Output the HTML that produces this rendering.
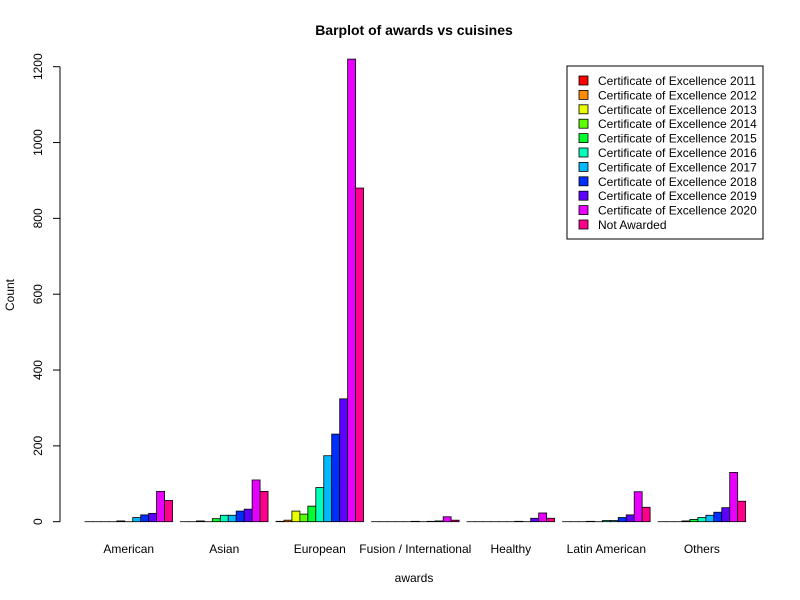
<!DOCTYPE html>
<html><head><meta charset="utf-8"><style>
body{margin:0;background:#fff}
svg{display:block;font-family:"Liberation Sans",Arial,sans-serif}
</style></head><body>
<svg id="chart" width="800" height="600" xmlns="http://www.w3.org/2000/svg">
<text x="414" y="35" text-anchor="middle" font-size="14" font-weight="bold">Barplot of awards vs cuisines</text>
<text x="414" y="582" text-anchor="middle" font-size="12">awards</text>
<text transform="translate(14,295) rotate(-90)" text-anchor="middle" font-size="12">Count</text>
<g id="bars"></g><g id="yaxis"></g><g id="xlabels"></g><g id="legend"></g>
</svg>
<script>
const categories=["American","Asian","European","Fusion / International","Healthy","Latin American","Others"];
const seriesNames=["Certificate of Excellence 2011","Certificate of Excellence 2012","Certificate of Excellence 2013","Certificate of Excellence 2014","Certificate of Excellence 2015","Certificate of Excellence 2016","Certificate of Excellence 2017","Certificate of Excellence 2018","Certificate of Excellence 2019","Certificate of Excellence 2020","Not Awarded"];
const colors=["#FF0000","#FF8B00","#E8FF00","#5DFF00","#00FF2E","#00FFB9","#00B9FF","#002EFF","#5D00FF","#E800FF","#FF008B"];
const american=[0,0,0,0,2,0,11,18,22,80,56];
const asian=[0,0,2,0,8,17,17,28,33,110,80];
const european=[1,4,28,20,41,90,174,231,324,1220,880];
const fusion=[0,0,0,0,0,1,0,1,2,13,4];
const healthy=[0,0,0,0,0,0,1,0,9,23,9];
const latin=[0,0,0,1,0,3,3,11,18,79,38];
const others=[0,0,0,2,6,11,17,25,37,130,54];
const values=[american,asian,european,fusion,healthy,latin,others];
const yTicks=[0,200,400,600,800,1000,1200];
const NS="http://www.w3.org/2000/svg";
const bw=7.96,x0=77,y0=521.7,yScale=455/1200;
const y=v=>y0-v*yScale;
const xb=(g,s)=>x0+(g*12+1+s)*bw;
function mk(t,a,p){const e=document.createElementNS(NS,t);for(const k in a)e.setAttribute(k,a[k]);document.getElementById(p).appendChild(e);return e;}
values.forEach((arr,g)=>{arr.forEach((v,s)=>{
 const r=mk('rect',{x:xb(g,s),y:y(v),width:bw,height:Math.max(v*yScale,0.01),fill:colors[s],stroke:'#000','stroke-width':0.8},'bars');
 
 
});
 const t=mk('text',{x:xb(g,5.5),y:553,'text-anchor':'middle','font-size':12},'xlabels');
 t.textContent=categories[g];
 
 
});
const ax=mk('line',{x1:60,x2:60,y1:y(0),y2:y(1200),stroke:'#000'},'yaxis');


yTicks.forEach(v=>{
 mk('line',{x1:53,x2:60,y1:y(v),y2:y(v),stroke:'#000'},'yaxis');
 const t=mk('text',{transform:`translate(42,${y(v)}) rotate(-90)`,'text-anchor':'middle','font-size':12},'yaxis');
 t.textContent=v;
 
 
});
const lb=mk('rect',{x:567,y:66,width:196,height:173,fill:'#fff',stroke:'#000'},'legend');


seriesNames.forEach((n,i)=>{
 const cy=80.5+i*14.4;
 mk('rect',{x:579,y:cy-4.5,width:9,height:9,fill:colors[i],stroke:'#000','stroke-width':0.8},'legend');
 const t=mk('text',{x:598,y:cy+4.5,'font-size':12},'legend');
 t.textContent=n;
 
 
});
</script>
</body></html>
